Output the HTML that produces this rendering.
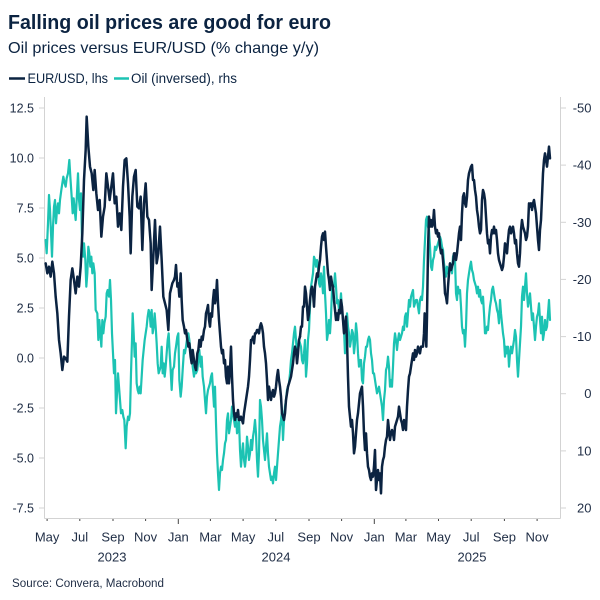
<!DOCTYPE html>
<html>
<head>
<meta charset="utf-8">
<style>
  html,body{margin:0;padding:0;background:#fff;}
  svg{display:block;}
  text{font-family:"Liberation Sans",sans-serif;}
</style>
</head>
<body>
<svg width="600" height="600" viewBox="0 0 600 600" xmlns="http://www.w3.org/2000/svg">
  <rect width="600" height="600" fill="#ffffff"/>

  <!-- Titles -->
  <text x="8" y="29" font-size="20" font-weight="bold" fill="#0b2341" textLength="323" lengthAdjust="spacingAndGlyphs">Falling oil prices are good for euro</text>
  <text x="8" y="53" font-size="16" fill="#0b2341" textLength="311" lengthAdjust="spacingAndGlyphs">Oil prices versus EUR/USD (% change y/y)</text>

  <!-- Legend -->
  <line x1="9" y1="78.5" x2="25" y2="78.5" stroke="#0b2341" stroke-width="2.5"/>
  <text x="27.5" y="83" font-size="13.5" fill="#0b2341" textLength="80.5" lengthAdjust="spacingAndGlyphs">EUR/USD, lhs</text>
  <line x1="114" y1="78.5" x2="129" y2="78.5" stroke="#1cc3b3" stroke-width="2.5"/>
  <text x="131" y="83" font-size="13.5" fill="#0b2341" textLength="106" lengthAdjust="spacingAndGlyphs">Oil (inversed), rhs</text>

  <!-- Axes -->
  <g stroke="#d3d3d3" stroke-width="1" fill="none">
    <line x1="44.5" y1="97" x2="44.5" y2="518.5"/>
    <line x1="560.5" y1="97" x2="560.5" y2="518.5"/>
    <line x1="44.5" y1="518.5" x2="560.5" y2="518.5"/>
    <!-- left ticks -->
    <line x1="39" y1="108" x2="44" y2="108"/>
    <line x1="39" y1="158" x2="44" y2="158"/>
    <line x1="39" y1="208" x2="44" y2="208"/>
    <line x1="39" y1="258" x2="44" y2="258"/>
    <line x1="39" y1="308" x2="44" y2="308"/>
    <line x1="39" y1="358" x2="44" y2="358"/>
    <line x1="39" y1="408" x2="44" y2="408"/>
    <line x1="39" y1="458" x2="44" y2="458"/>
    <line x1="39" y1="508" x2="44" y2="508"/>
    <!-- right ticks -->
    <line x1="561" y1="108" x2="566" y2="108"/>
    <line x1="561" y1="165.1" x2="566" y2="165.1"/>
    <line x1="561" y1="222.3" x2="566" y2="222.3"/>
    <line x1="561" y1="279.4" x2="566" y2="279.4"/>
    <line x1="561" y1="336.6" x2="566" y2="336.6"/>
    <line x1="561" y1="393.7" x2="566" y2="393.7"/>
    <line x1="561" y1="450.9" x2="566" y2="450.9"/>
    <line x1="561" y1="508" x2="566" y2="508"/>
  </g>
  <g stroke="#444" stroke-width="1" fill="none">
    <!-- bottom ticks -->
    <line x1="47.1" y1="519" x2="47.1" y2="521"/>
    <line x1="79.8" y1="519" x2="79.8" y2="521"/>
    <line x1="113" y1="519" x2="113" y2="521"/>
    <line x1="145.6" y1="519" x2="145.6" y2="521"/>
    <line x1="178.3" y1="519" x2="178.3" y2="524"/>
    <line x1="210.4" y1="519" x2="210.4" y2="521"/>
    <line x1="243.1" y1="519" x2="243.1" y2="521"/>
    <line x1="275.8" y1="519" x2="275.8" y2="521"/>
    <line x1="309" y1="519" x2="309" y2="521"/>
    <line x1="341.6" y1="519" x2="341.6" y2="521"/>
    <line x1="374.3" y1="519" x2="374.3" y2="524"/>
    <line x1="405.9" y1="519" x2="405.9" y2="521"/>
    <line x1="438.5" y1="519" x2="438.5" y2="521"/>
    <line x1="471.2" y1="519" x2="471.2" y2="521"/>
    <line x1="504.4" y1="519" x2="504.4" y2="521"/>
    <line x1="537.1" y1="519" x2="537.1" y2="521"/>
  </g>

  <!-- Left labels -->
  <g font-size="12.5" fill="#1f2d45" text-anchor="end">
    <text x="34" y="112.5">12.5</text>
    <text x="34" y="162.5">10.0</text>
    <text x="34" y="212.5">7.5</text>
    <text x="34" y="262.5">5.0</text>
    <text x="34" y="312.5">2.5</text>
    <text x="34" y="362.5">0.0</text>
    <text x="34" y="412.5">-2.5</text>
    <text x="34" y="462.5">-5.0</text>
    <text x="34" y="512.5">-7.5</text>
  </g>
  <!-- Right labels -->
  <g font-size="13" fill="#1f2d45" text-anchor="end">
    <text x="591.5" y="112.5">-50</text>
    <text x="591.5" y="169.6">-40</text>
    <text x="591.5" y="226.8">-30</text>
    <text x="591.5" y="283.9">-20</text>
    <text x="591.5" y="341.1">-10</text>
    <text x="591.5" y="398.2">0</text>
    <text x="591.5" y="455.4">10</text>
    <text x="591.5" y="512.5">20</text>
  </g>
  <!-- Bottom labels -->
  <g font-size="13" fill="#1f2d45" text-anchor="middle">
    <text x="47.1" y="541.5">May</text>
    <text x="79.8" y="541.5">Jul</text>
    <text x="113" y="541.5">Sep</text>
    <text x="145.6" y="541.5">Nov</text>
    <text x="178.3" y="541.5">Jan</text>
    <text x="210.4" y="541.5">Mar</text>
    <text x="243.1" y="541.5">May</text>
    <text x="275.8" y="541.5">Jul</text>
    <text x="309" y="541.5">Sep</text>
    <text x="341.6" y="541.5">Nov</text>
    <text x="374.3" y="541.5">Jan</text>
    <text x="405.9" y="541.5">Mar</text>
    <text x="438.5" y="541.5">May</text>
    <text x="471.2" y="541.5">Jul</text>
    <text x="504.4" y="541.5">Sep</text>
    <text x="537.1" y="541.5">Nov</text>
    <text x="112" y="561.5">2023</text>
    <text x="276" y="561.5">2024</text>
    <text x="472" y="561.5">2025</text>
  </g>

  <!-- Source -->
  <text x="12" y="587" font-size="11.5" fill="#1f2d45" textLength="152" lengthAdjust="spacingAndGlyphs">Source: Convera, Macrobond</text>

  <!-- Teal series (Oil inversed) -->
  <g fill="none" stroke="#1cc3b3" stroke-width="2.2" stroke-linejoin="round" stroke-linecap="round">
    <polyline vector-effect="non-scaling-stroke" transform="translate(44,100) scale(0.33333)" points="5,420 8,460 12,370 15,285 18,330 22,420 24,470 27,380 30,320 33,300 36,370 39,330 42,310 45,340 48,300 52,270 55,250 58,230 62,250 65,260 68,235 72,220 76,180 79,230 83,290 86,340 89,295 92,330 95,360 99,280 102,220 105,300 108,330 111,280 114,420 117,470 120,430 124,480 127,560 130,520 133,440 136,460 139,500 142,470 145,520 148,490 152,520 155,630 160,640 163,720 166,660 169,700 172,740 175,660 178,700 181,670 185,650 188,580 191,570 195,590 198,540 201,600 204,700 207,760 210,820 213,780 216,940 219,880 222,820 225,860 228,900 231,940 235,930 238,950 241,960 245,1045 248,980 252,950 255,960 258,940 261,820 264,720 266,640 269,700 272,770 275,730 278,850 281,870 284,880 287,860 290,880 293,830 296,780 299,750 302,720 305,700 308,680 311,650 314,630 317,640 320,680 323,630 326,700 329,680 332,640 335,680 338,730 341,790 344,820 347,810 350,800 353,740 356,820 359,790 362,830 365,800 368,760 371,720 374,700 377,760 380,810 383,870 386,810 390,800"/>
    <polyline vector-effect="non-scaling-stroke" transform="translate(170,100) scale(0.33333)" points="12,800 15,760 18,740 22,710 25,700 28,840 32,890 35,860 38,810 42,750 45,760 48,740 52,710 55,700 58,720 62,760 65,750 68,800 72,830 75,800 78,820 82,810 85,780 88,750 92,800 95,770 98,830 102,860 105,900 108,940 111,890 114,870 117,860 120,850 123,830 126,820 129,870 132,920 135,860 138,970 141,1060 144,1120 147,1170 150,1120 153,1100 156,1110 159,1080 162,1060 165,1030 168,1020 171,960 174,940 177,1000 180,980 183,960 186,920 189,940 192,960 195,980 198,940 201,1000 204,990 207,960 210,1050 213,1100 216,1060 219,1030 222,1080 225,1100 228,1070 231,1010 234,1040 237,1080 240,1060 243,1020 246,1050 249,1010 252,990 255,960 258,1000 261,1080 264,1130 267,1060 270,900 273,920 276,960 279,1020 282,1050 285,1080 288,1040 291,1000 294,1060 297,1100 300,1120 303,1140 306,1130 309,1150 312,1120 315,1100 318,1140 321,1100 324,1060 327,1020 330,980 333,960 336,930 339,1020 342,960 345,920 348,900 351,870 354,860 357,850 360,820 363,780 366,760 369,730 372,700 375,680 378,720 381,760 384,740 387,720 390,730"/>
    <polyline vector-effect="non-scaling-stroke" transform="translate(296,100) scale(0.33333)" points="12,730 15,740 18,780 21,790 24,760 27,720 30,830 33,790 36,720 39,690 42,620 45,560 48,540 51,520 54,470 57,480 60,500 63,480 66,500 69,550 72,560 75,520 78,540 81,580 84,500 87,580 90,640 93,720 96,700 99,660 102,700 105,650 108,570 111,560 114,560 117,520 120,560 123,610 126,600 129,630 132,620 135,580 138,630 141,660 144,690 147,760 150,700 153,640 156,680 159,700 162,740 165,720 168,690 171,700 174,760 177,730 180,670 183,700 186,760 189,800 192,780 195,780 198,840 201,850 204,790 207,770 210,740 213,740 216,720 219,710 222,720 225,760 228,780 231,820 234,820 237,840 240,860 243,880 246,870 249,860 252,880 255,900 258,920 261,960 264,900 267,870 270,810 273,800 276,770 279,800 282,860 285,840 288,860 291,800 294,730 297,700 300,720 303,750 306,720 309,700 312,720 315,710 318,700 321,680 324,690 327,650 330,640 333,680 336,640 339,600 342,620 345,590 348,580 351,570 354,620 357,610 360,600 363,600 366,620 369,640 372,600 375,590 378,600"/>
    <polyline vector-effect="non-scaling-stroke" transform="translate(422,100) scale(0.33333)" points="0,600 3,560 6,480 9,420 12,360 15,350 18,380 21,390 24,440 27,500 30,510 33,480 36,470 39,440 42,450 45,440 48,430 51,420 54,410 57,420 60,440 63,450 66,490 69,510 72,530 75,500 78,520 81,510 84,490 87,500 90,520 93,470 96,460 99,480 102,580 105,600 108,560 111,580 114,570 117,620 120,680 123,700 126,690 129,740 132,680 135,580 138,540 141,520 144,500 147,485 150,510 153,520 156,540 159,550 162,560 165,580 168,560 171,590 174,570 177,600 180,610 183,590 186,640 189,700 192,700 195,680 198,690 201,650 204,620 207,600 210,570 213,560 216,580 219,600 222,610 225,630 228,640 231,670 234,600 237,640 240,670 243,700 246,720 249,770 252,740 255,760 258,740 261,800 264,760 267,740 270,760 273,740 276,720 279,690 282,710 285,780 288,830 291,780 294,730 297,680 300,590 303,560 306,600 309,560 312,520 315,580 318,620 321,600 324,580 327,620 330,660 333,640 336,680 339,720 342,680 345,650 348,640 351,610 354,660 357,700 360,650 363,720 366,700 369,660 372,690 375,680 378,640 381,600 384,660"/>
  </g>

  <!-- Navy series (EUR/USD) -->
  <g fill="none" stroke="#0b2341" stroke-width="2.5" stroke-linejoin="round" stroke-linecap="round">
    <polyline vector-effect="non-scaling-stroke" transform="translate(44,100) scale(0.33333)" points="5,490 10,520 15,500 20,530 25,485 30,520 35,590 40,640 45,720 50,760 55,810 60,770 65,775 70,785 75,650 80,540 85,505 90,540 95,580 100,530 105,560 110,500 115,400 120,240 125,150 128,50 133,140 138,200 143,220 148,270 152,210 157,280 162,330 167,300 172,410 177,350 182,320 187,220 192,260 197,300 202,260 207,220 212,310 217,290 222,380 227,340 232,390 237,260 242,180 247,175 252,250 257,350 260,460 265,290 270,230 275,210 280,320 285,325 290,290 295,450 300,310 305,250 310,350 315,360 320,430 323,570 328,470 333,360 338,490 343,460 348,380 353,480 358,590 363,610 368,630 373,690 378,580 385,550 390,540"/>
    <polyline vector-effect="non-scaling-stroke" transform="translate(170,100) scale(0.33333)" points="12,540 15,530 18,495 22,560 25,550 28,590 32,520 35,600 38,660 42,680 45,700 48,690 52,720 55,740 58,730 62,770 65,790 68,750 72,780 75,800 78,810 82,760 85,750 88,720 92,740 95,710 98,720 102,690 105,680 108,640 111,630 114,615 117,660 120,680 123,640 126,650 129,600 132,570 135,610 138,590 141,540 144,610 147,660 150,700 153,740 156,760 159,750 162,790 165,780 168,830 171,850 174,800 177,850 180,810 183,740 186,830 189,900 192,940 195,960 198,940 201,950 204,930 207,960 210,960 213,950 216,960 219,970 222,940 225,920 228,900 231,880 234,860 237,830 240,780 243,720 246,720 249,710 252,730 255,700 258,700 261,690 264,690 267,700 270,680 273,670 276,680 279,700 282,740 285,760 288,790 291,840 294,900 297,860 300,880 303,900 306,880 309,870 312,890 315,880 318,860 321,830 324,810 327,840 330,860 333,890 336,940 339,950 342,960 345,940 348,900 351,880 354,860 357,850 360,840 363,830 366,810 369,790 372,760 375,740 378,750 381,790 384,760 387,720 390,710"/>
    <polyline vector-effect="non-scaling-stroke" transform="translate(296,100) scale(0.33333)" points="12,710 15,680 18,680 21,620 24,620 27,560 30,580 33,620 36,660 39,640 42,600 45,570 48,560 51,580 54,620 57,560 60,540 63,520 66,530 69,500 72,480 75,440 78,410 81,400 84,420 87,395 90,440 93,480 96,520 99,540 102,570 105,530 108,550 111,560 114,600 117,630 120,660 123,640 126,660 129,630 132,640 135,600 138,620 141,660 144,700 147,680 150,650 153,720 156,830 159,920 162,950 165,980 168,960 171,1000 174,1060 177,1040 180,1000 183,960 186,940 189,910 192,880 195,870 198,860 201,920 204,1000 207,1050 210,1000 213,1060 216,1100 219,1110 222,1130 225,1140 228,1120 231,1130 234,1100 237,1050 240,1170 243,1140 246,1110 249,1140 252,1120 255,1180 258,1100 261,1080 264,1070 267,1040 270,1020 273,1010 276,960 279,990 282,1020 285,1000 288,990 291,1000 294,1020 297,980 300,970 303,960 306,950 309,920 312,940 315,960 318,970 321,990 324,960 327,980 330,990 333,920 336,870 339,830 342,820 345,800 348,780 351,760 354,780 357,750 360,770 363,760 366,740 369,750 372,760 375,740 378,740"/>
    <polyline vector-effect="non-scaling-stroke" transform="translate(422,100) scale(0.33333)" points="0,740 3,740 6,700 8,640 11,700 13,740 15,650 18,450 21,350 24,380 27,360 30,380 33,370 36,330 39,380 42,400 45,390 48,410 51,400 54,440 57,460 60,450 63,480 66,520 69,580 72,590 75,610 78,560 81,520 84,490 87,510 90,500 93,490 96,460 99,460 102,480 105,460 108,430 111,400 114,380 117,420 120,340 123,290 126,280 129,310 132,320 135,290 138,240 141,220 144,210 147,200 150,195 153,240 156,240 159,270 162,290 165,330 168,350 171,380 174,400 177,390 180,300 183,270 186,280 189,300 192,350 195,400 198,430 201,420 204,460 207,410 210,390 213,400 216,380 219,400 222,390 225,420 228,460 231,480 234,490 237,500 240,510 243,500 246,470 249,430 252,440 255,460 258,420 261,390 264,380 267,400 270,390 273,380 276,400 279,430 282,420 285,460 288,490 291,500 294,460 297,390 300,360 303,380 306,390 309,400 312,420 315,410 318,380 321,310 324,320 327,310 330,330 333,310 336,300 339,320 342,340 345,380 348,420 351,450 354,390 357,360 360,290 363,220 366,180 369,160 372,180 375,200 378,170 381,140 384,175"/>
  </g>
</svg>
</body>
</html>
